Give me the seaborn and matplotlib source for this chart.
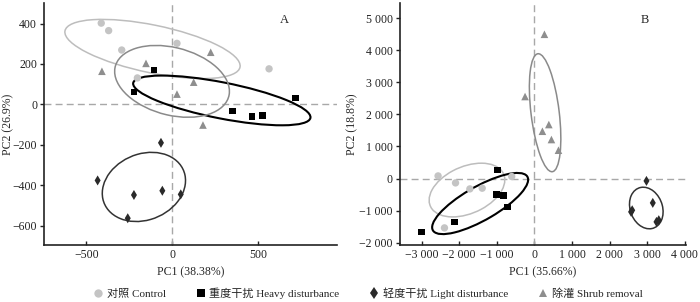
import numpy as np
import pandas as pd
import matplotlib
matplotlib.use('Agg')
import matplotlib.pyplot as plt
from matplotlib.patches import Ellipse
from matplotlib.lines import Line2D
from matplotlib.ticker import FuncFormatter
import seaborn as sns

# ---- data (PC scores per plot) ----
groups = ['对照 Control', '重度干扰 Heavy disturbance', '轻度干扰 Light disturbance', '除灌 Shrub removal']

# panel A
a_ctrl_x = [-413, -370, -294, 27, 562, -203]
a_ctrl_y = [402, 365, 269, 302, 176, 131]
a_heavy_x = [-106, -222, 351, 462, 525, 715]
a_heavy_y = [171, 62, -33, -59, -54, 31]
a_light_x = [-66, -434, -223, -58, 49, -259]
a_light_y = [-190, -376, -448, -427, -445, -563]
a_shrub_x = [-409, -153, 223, 124, 27, 178]
a_shrub_y = [164, 203, 258, 110, 51, -102]

# panel B
b_ctrl_x = [-2560, -2096, -1715, -1387, -603, -2390]
b_ctrl_y = [81, -137, -324, -302, 62, -1539]
b_heavy_x = [-987, -1013, -816, -709, -2123, -3003]
b_heavy_y = [259, -498, -530, -885, -1352, -1673]
b_light_x = [2979, 3147, 2600, 2570, 3245, 3307]
b_light_y = [-75, -760, -990, -1040, -1352, -1299]
b_shrub_x = [267, -248, 384, 213, 453, 640]
b_shrub_y = [4495, 2555, 1682, 1473, 1215, 882]

a_xlabel = 'PC1 (38.38%)'
a_ylabel = 'PC2 (26.9%)'
b_xlabel = 'PC1 (35.66%)'
b_ylabel = 'PC2 (18.8%)'

point_colors = ['#c4c4c4', '#000000', '#2a2a2a', '#8e8e8e']
ell_colors = ['#bdbdbd', '#000000', '#333333', '#8a8a8a']
ell_widths = [1.1, 1.5, 1.1, 1.1]
markers = ['o', 's', 'd', '^']
msizes = [28, 22, 26, 30]

sns.set_theme(style='ticks')
plt.rcParams['font.family'] = ['Liberation Serif', 'Noto Sans CJK SC', 'DejaVu Sans']
plt.rcParams['font.size'] = 8


def make_df(xs, ys):
    rows = []
    for g, x, y in zip(groups, xs, ys):
        for xi, yi in zip(x, y):
            rows.append({'group': g, 'PC1': xi, 'PC2': yi})
    return pd.DataFrame(rows)


def conf_radius(n, p=0.95):
    # 95% confidence ellipse of the group centroid (F quantile, dfn=2)
    d = n - 1
    f = d / 2.0 * ((1 - p) ** (-2.0 / d) - 1)
    return np.sqrt(2 * f / n)


def draw_ellipse(ax, x, y, color, lw):
    x = np.asarray(x, float)
    y = np.asarray(y, float)
    cov = np.cov(x, y)
    vals, vecs = np.linalg.eigh(cov)
    order = vals.argsort()[::-1]
    vals, vecs = vals[order], vecs[:, order]
    r = conf_radius(len(x))
    angle = np.degrees(np.arctan2(vecs[1, 0], vecs[0, 0]))
    e = Ellipse((x.mean(), y.mean()), 2 * r * np.sqrt(vals[0]), 2 * r * np.sqrt(vals[1]),
                angle=angle, fill=False, edgecolor=color, lw=lw, zorder=3)
    ax.add_patch(e)


def space_thousands(v, pos):
    s = f'{abs(int(round(v))):,}'.replace(',', ' ')
    return ('\u2212' if v < 0 else '') + s


fig = plt.figure(figsize=(7.0, 3.02), dpi=100)
axA = fig.add_axes([0.063, 0.189, 0.418, 0.80])
axB = fig.add_axes([0.571, 0.189, 0.409, 0.80])

panels = [
    (axA, [a_ctrl_x, a_heavy_x, a_light_x, a_shrub_x], [a_ctrl_y, a_heavy_y, a_light_y, a_shrub_y],
     a_xlabel, a_ylabel, 'A', (-745, 955), (-695, 500), (0.82, 0.93), -0.102),
    (axB, [b_ctrl_x, b_heavy_x, b_light_x, b_shrub_x], [b_ctrl_y, b_heavy_y, b_light_y, b_shrub_y],
     b_xlabel, b_ylabel, 'B', (-3580, 4030), (-2070, 5460), (0.857, 0.93), -0.143),
]

for ax, xs, ys, xl, yl, tag, xlim, ylim, tagpos, ylab_x in panels:
    df = make_df(xs, ys)
    ax.axhline(0, color='#a8a8a8', lw=1.0, ls=(0, (5, 3)), zorder=1)
    ax.axvline(0, color='#a8a8a8', lw=1.0, ls=(0, (5, 3)), zorder=1)
    for g, c, m, s in zip(groups, point_colors, markers, msizes):
        sub = df[df['group'] == g]
        sns.scatterplot(data=sub, x='PC1', y='PC2', ax=ax, color=c, marker=m, s=s,
                        edgecolor='none', legend=False, zorder=4)
    for x, y, c, lw in zip(xs, ys, ell_colors, ell_widths):
        draw_ellipse(ax, x, y, c, lw)
    ax.set_xlim(*xlim)
    ax.set_ylim(*ylim)
    ax.set_xlabel(xl, fontsize=8.5)
    ax.set_ylabel(yl, fontsize=8.5)
    ax.xaxis.set_label_coords(0.5, -0.09)
    ax.yaxis.set_label_coords(ylab_x, 0.5)
    ax.text(tagpos[0], tagpos[1], tag, transform=ax.transAxes, fontsize=9, ha='center', va='center')
    sns.despine(ax=ax)
    for sp in ['left', 'bottom']:
        ax.spines[sp].set_linewidth(1.2)
        ax.spines[sp].set_color('#222222')
    ax.tick_params(axis='x', direction='in', length=3, width=1, labelsize=8.5, pad=3, colors='#222222')
    ax.tick_params(axis='y', direction='out', length=3, width=1, labelsize=8.5, pad=2, colors='#222222')

axA.set_xticks([-500, 0, 500])
axA.set_yticks([-600, -400, -200, 0, 200, 400])
axB.set_xticks(np.arange(-3000, 4001, 1000))
axB.set_yticks(np.arange(-2000, 5001, 1000))
axB.xaxis.set_major_formatter(FuncFormatter(space_thousands))
axB.yaxis.set_major_formatter(FuncFormatter(space_thousands))

handles = [Line2D([], [], ls='none', marker=m, color=c, markersize=6 if m != 'd' else 6.5,
                  markeredgewidth=0) for m, c in zip(markers, point_colors)]
fig.legend(handles, groups, loc='center', bbox_to_anchor=(0.525, 0.03), ncol=4, frameon=False,
           fontsize=8, handletextpad=0.3, columnspacing=2.6, handlelength=1.0)

fig.savefig('out.png', dpi=100)
